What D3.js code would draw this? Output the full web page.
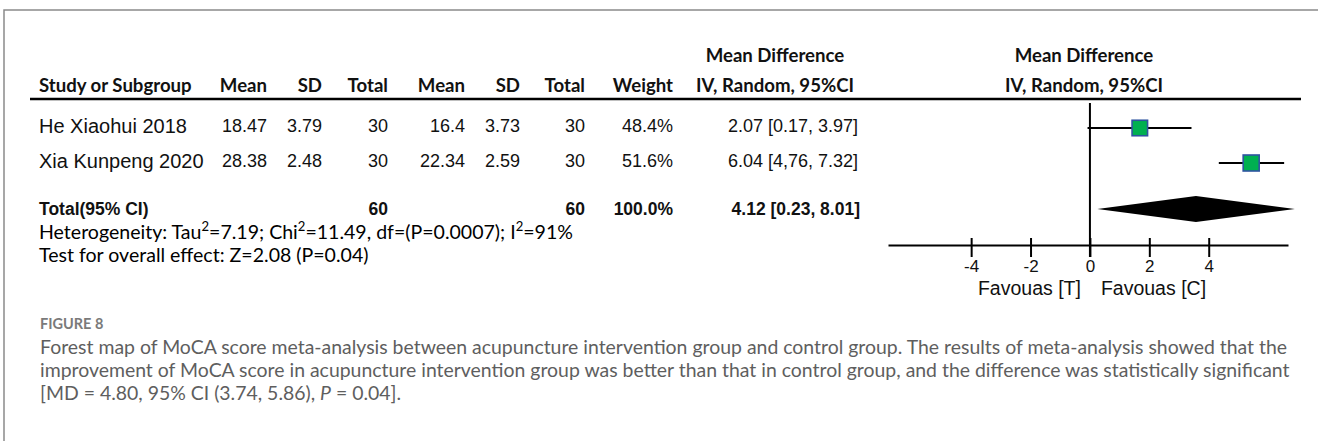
<!DOCTYPE html>
<html>
<head>
<meta charset="utf-8">
<script src="https://cdn.jsdelivr.net/npm/d3@7"></script>
<style>
html,body{margin:0;padding:0;background:#fff;}
svg{display:block;}
</style>
</head>
<body>
<svg id="chart" width="1318" height="441"></svg>
<script>
// ---------------- data ----------------
const studies = ["He Xiaohui 2018", "Xia Kunpeng 2020"];
const expMean = [18.47, 28.38];
const expSD = [3.79, 2.48];
const expTotal = [30, 30];
const ctlMean = [16.4, 22.34];
const ctlSD = [3.73, 2.59];
const ctlTotal = [30, 30];
const weightLabels = ["48.4%", "51.6%"];
const weightValues = [48.4, 51.6];
const mdLabels = ["2.07 [0.17, 3.97]", "6.04 [4,76, 7.32]"];
// plotted positions as drawn in the figure
const plotEst = [1.68, 5.43];
const plotLow = [-0.08, 4.34];
const plotHigh = [3.42, 6.54];
const totalLabels = ["Total(95% CI)", "60", "60", "100.0%", "4.12 [0.23, 8.01]"];
const totalPlot = [0.25, 3.57, 6.90]; // low, estimate, high of diamond
const tickValues = [-4, -2, 0, 2, 4];
const axisDomain = [-6.8, 6.67];
const favourLabels = ["Favouas [T]", "Favouas [C]"];
const headLine1 = "Mean Difference";
const headLine2 = "IV, Random, 95%CI";
const colHeads = ["Study or Subgroup", "Mean", "SD", "Total", "Mean", "SD", "Total", "Weight"];
const captionTitle = "FIGURE 8";
const captionLines = [
  "Forest map of MoCA score meta-analysis between acupuncture intervention group and control group. The results of meta-analysis showed that the",
  "improvement of MoCA score in acupuncture intervention group was better than that in control group, and the difference was statistically significant"
];

// ---------------- setup ----------------
const svg = d3.select("#chart");
svg.append("rect").attr("width", 1318).attr("height", 441).attr("fill", "#fff");
svg.append("path").attr("d", "M4,441V10H1318").attr("fill", "none")
  .attr("stroke", "#8a8a8a").attr("stroke-width", 1.5);

const HEAD_FONT = "Lato, 'Open Sans', sans-serif";
const ROW_FONT = "'Liberation Sans', Arial, sans-serif";

// column anchors (layout)
const colX = [39, 267, 322, 388, 465, 520, 585, 673];
const colAnchor = ["start", "end", "end", "end", "end", "end", "end", "end"];
const mdCenterX = 775;
const mdRight = 858;
const plotCenterX = 1084;

// header
const hdr = svg.append("g").attr("font-family", HEAD_FONT).attr("font-weight", 700)
  .attr("font-size", 18.6).attr("fill", "#111");
hdr.selectAll("text.col").data(colHeads).join("text").attr("class", "col")
  .attr("x", (d, i) => colX[i]).attr("y", 85).attr("dy", "0.35em")
  .attr("text-anchor", (d, i) => colAnchor[i]).text(d => d);
[mdCenterX, plotCenterX].forEach(cx => {
  hdr.append("text").attr("x", cx).attr("y", 55).attr("dy", "0.35em")
    .attr("text-anchor", "middle").text(headLine1);
  hdr.append("text").attr("x", cx).attr("y", 85).attr("dy", "0.35em")
    .attr("text-anchor", "middle").text(headLine2);
});
svg.append("line").attr("x1", 30).attr("x2", 1301).attr("y1", 99).attr("y2", 99)
  .attr("stroke", "#000").attr("stroke-width", 2.5);

// rows
const y = d3.scaleLinear().domain([0, 1]).range([126, 161]);
const rowData = studies.map((s, i) => [s, expMean[i], expSD[i], expTotal[i], ctlMean[i], ctlSD[i], ctlTotal[i], weightLabels[i]]);
const rows = svg.append("g").attr("font-family", ROW_FONT).attr("font-size", 18).attr("fill", "#111");
rowData.forEach((r, i) => {
  rows.selectAll(null).data(r).join("text")
    .attr("class", (d, j) => j === 0 ? "name" : "num")
    .attr("x", (d, j) => colX[j]).attr("y", y(i)).attr("dy", "0.35em")
    .attr("text-anchor", (d, j) => colAnchor[j]).text(d => String(d));
  rows.append("text").attr("x", mdRight).attr("y", y(i)).attr("dy", "0.35em")
    .attr("text-anchor", "end").text(mdLabels[i]);
});
// study names appear wider in the reference
rows.selectAll("text.name").attr("font-size", 20);

// total row
const totalY = 209;
const totalX = [39, 388, 585, 673, 860];
const tot = svg.append("g").attr("font-family", ROW_FONT).attr("font-weight", 700)
  .attr("font-size", 17.5).attr("fill", "#111");
tot.selectAll("text").data(totalLabels).join("text")
  .attr("x", (d, i) => totalX[i]).attr("y", totalY).attr("dy", "0.35em")
  .attr("text-anchor", (d, i) => i === 0 ? "start" : "end").text(d => d);

// heterogeneity & overall
const het = svg.append("text").attr("x", 39).attr("y", 232).attr("dy", "0.35em")
  .attr("font-family", HEAD_FONT).attr("font-size", 18).attr("fill", "#000");
const hetParts = [["Heterogeneity: Tau", 0], ["2", 1], ["=7.19; Chi", 0], ["2", 1], ["=11.49, df=(P=0.0007); I", 0], ["2", 1], ["=91%", 0]];
hetParts.forEach(([t, sup]) => {
  const ts = het.append("tspan").text(t);
  if (sup) ts.attr("class", "sup").attr("baseline-shift", "super").attr("font-size", 12);
});
const test = svg.append("text").attr("x", 39).attr("y", 255).attr("dy", "0.35em")
  .attr("font-family", HEAD_FONT).attr("font-size", 18).attr("fill", "#000")
  .text("Test for overall effect: Z=2.08 (P=0.04)");
const hetW = het.node().getComputedTextLength();
const hetFs = 18 * 534 / hetW;
het.attr("font-size", hetFs);
het.selectAll("tspan.sup").attr("font-size", hetFs * 0.67);
test.attr("font-size", hetFs);

// ---------------- forest plot ----------------
const x = d3.scaleLinear().domain(axisDomain).range([888, 1288]);
const size = d3.scaleSqrt().domain([0, d3.max(weightValues)]).range([0, 16]);
const axisY = 245;

// zero line
svg.append("line").attr("x1", x(0)).attr("x2", x(0)).attr("y1", 103).attr("y2", axisY + 12)
  .attr("stroke", "#000").attr("stroke-width", 2);

// CI lines and boxes
const plot = svg.append("g");
plot.selectAll("line.ci").data(studies).join("line").attr("class", "ci")
  .attr("x1", (d, i) => x(plotLow[i])).attr("x2", (d, i) => x(plotHigh[i]))
  .attr("y1", (d, i) => y(i) + 2).attr("y2", (d, i) => y(i) + 2)
  .attr("stroke", "#000").attr("stroke-width", 2);
plot.selectAll("rect.box").data(studies).join("rect").attr("class", "box")
  .attr("x", (d, i) => x(plotEst[i]) - size(weightValues[i]) / 2)
  .attr("y", (d, i) => y(i) + 2 - size(weightValues[i]) / 2)
  .attr("width", (d, i) => size(weightValues[i]))
  .attr("height", (d, i) => size(weightValues[i]))
  .attr("fill", "#00b050").attr("stroke", "#2e54a0").attr("stroke-width", 1.6);

// diamond
const dh = 13;
plot.append("path")
  .attr("d", `M${x(totalPlot[0])},${totalY}L${x(totalPlot[1])},${totalY - dh}L${x(totalPlot[2])},${totalY}L${x(totalPlot[1])},${totalY + dh}Z`)
  .attr("fill", "#000");

// axis
const axis = d3.axisBottom(x).tickValues(tickValues).tickSizeInner(12).tickSizeOuter(0)
  .tickFormat(d => String(d));
const ga = svg.append("g").attr("transform", `translate(0,${axisY})`).call(axis);
ga.select(".domain").attr("stroke", "#000").attr("stroke-width", 2);
ga.selectAll(".tick line").attr("y1", -7).attr("y2", 12).attr("stroke", "#000").attr("stroke-width", 2);
ga.selectAll(".tick text").attr("y", 21).attr("dy", "0.35em")
  .attr("font-family", ROW_FONT).attr("font-size", 17).attr("fill", "#111");

// favours
svg.append("text").attr("x", x(0) - 9).attr("y", 288).attr("dy", "0.35em")
  .attr("text-anchor", "end").attr("font-family", ROW_FONT).attr("font-size", 19.5).attr("fill", "#111")
  .text(favourLabels[0]);
svg.append("text").attr("x", x(0) + 11).attr("y", 288).attr("dy", "0.35em")
  .attr("text-anchor", "start").attr("font-family", ROW_FONT).attr("font-size", 19.5).attr("fill", "#111")
  .text(favourLabels[1]);

// ---------------- caption ----------------
svg.append("text").attr("x", 40).attr("y", 324).attr("dy", "0.35em")
  .attr("font-family", HEAD_FONT).attr("font-weight", 700).attr("font-size", 14.5)
  .attr("fill", "#7a7a7a").text(captionTitle);
const capG = svg.append("g").attr("font-family", HEAD_FONT).attr("font-size", 17).attr("fill", "#5e5e5e");
const capY = [347, 370, 393];
const c1 = capG.append("text").attr("x", 40).attr("y", capY[0]).attr("dy", "0.35em").text(captionLines[0]);
const w1 = c1.node().getComputedTextLength();
const capFs = 17 * 1248 / w1;
capG.attr("font-size", capFs);
capG.append("text").attr("x", 40).attr("y", capY[1]).attr("dy", "0.35em").text(captionLines[1]);
const c3 = capG.append("text").attr("x", 40).attr("y", capY[2]).attr("dy", "0.35em");
c3.append("tspan").text("[MD = 4.80, 95% CI (3.74, 5.86), ");
c3.append("tspan").attr("font-style", "italic").text("P");
c3.append("tspan").text(" = 0.04].");
</script>
</body>
</html>
